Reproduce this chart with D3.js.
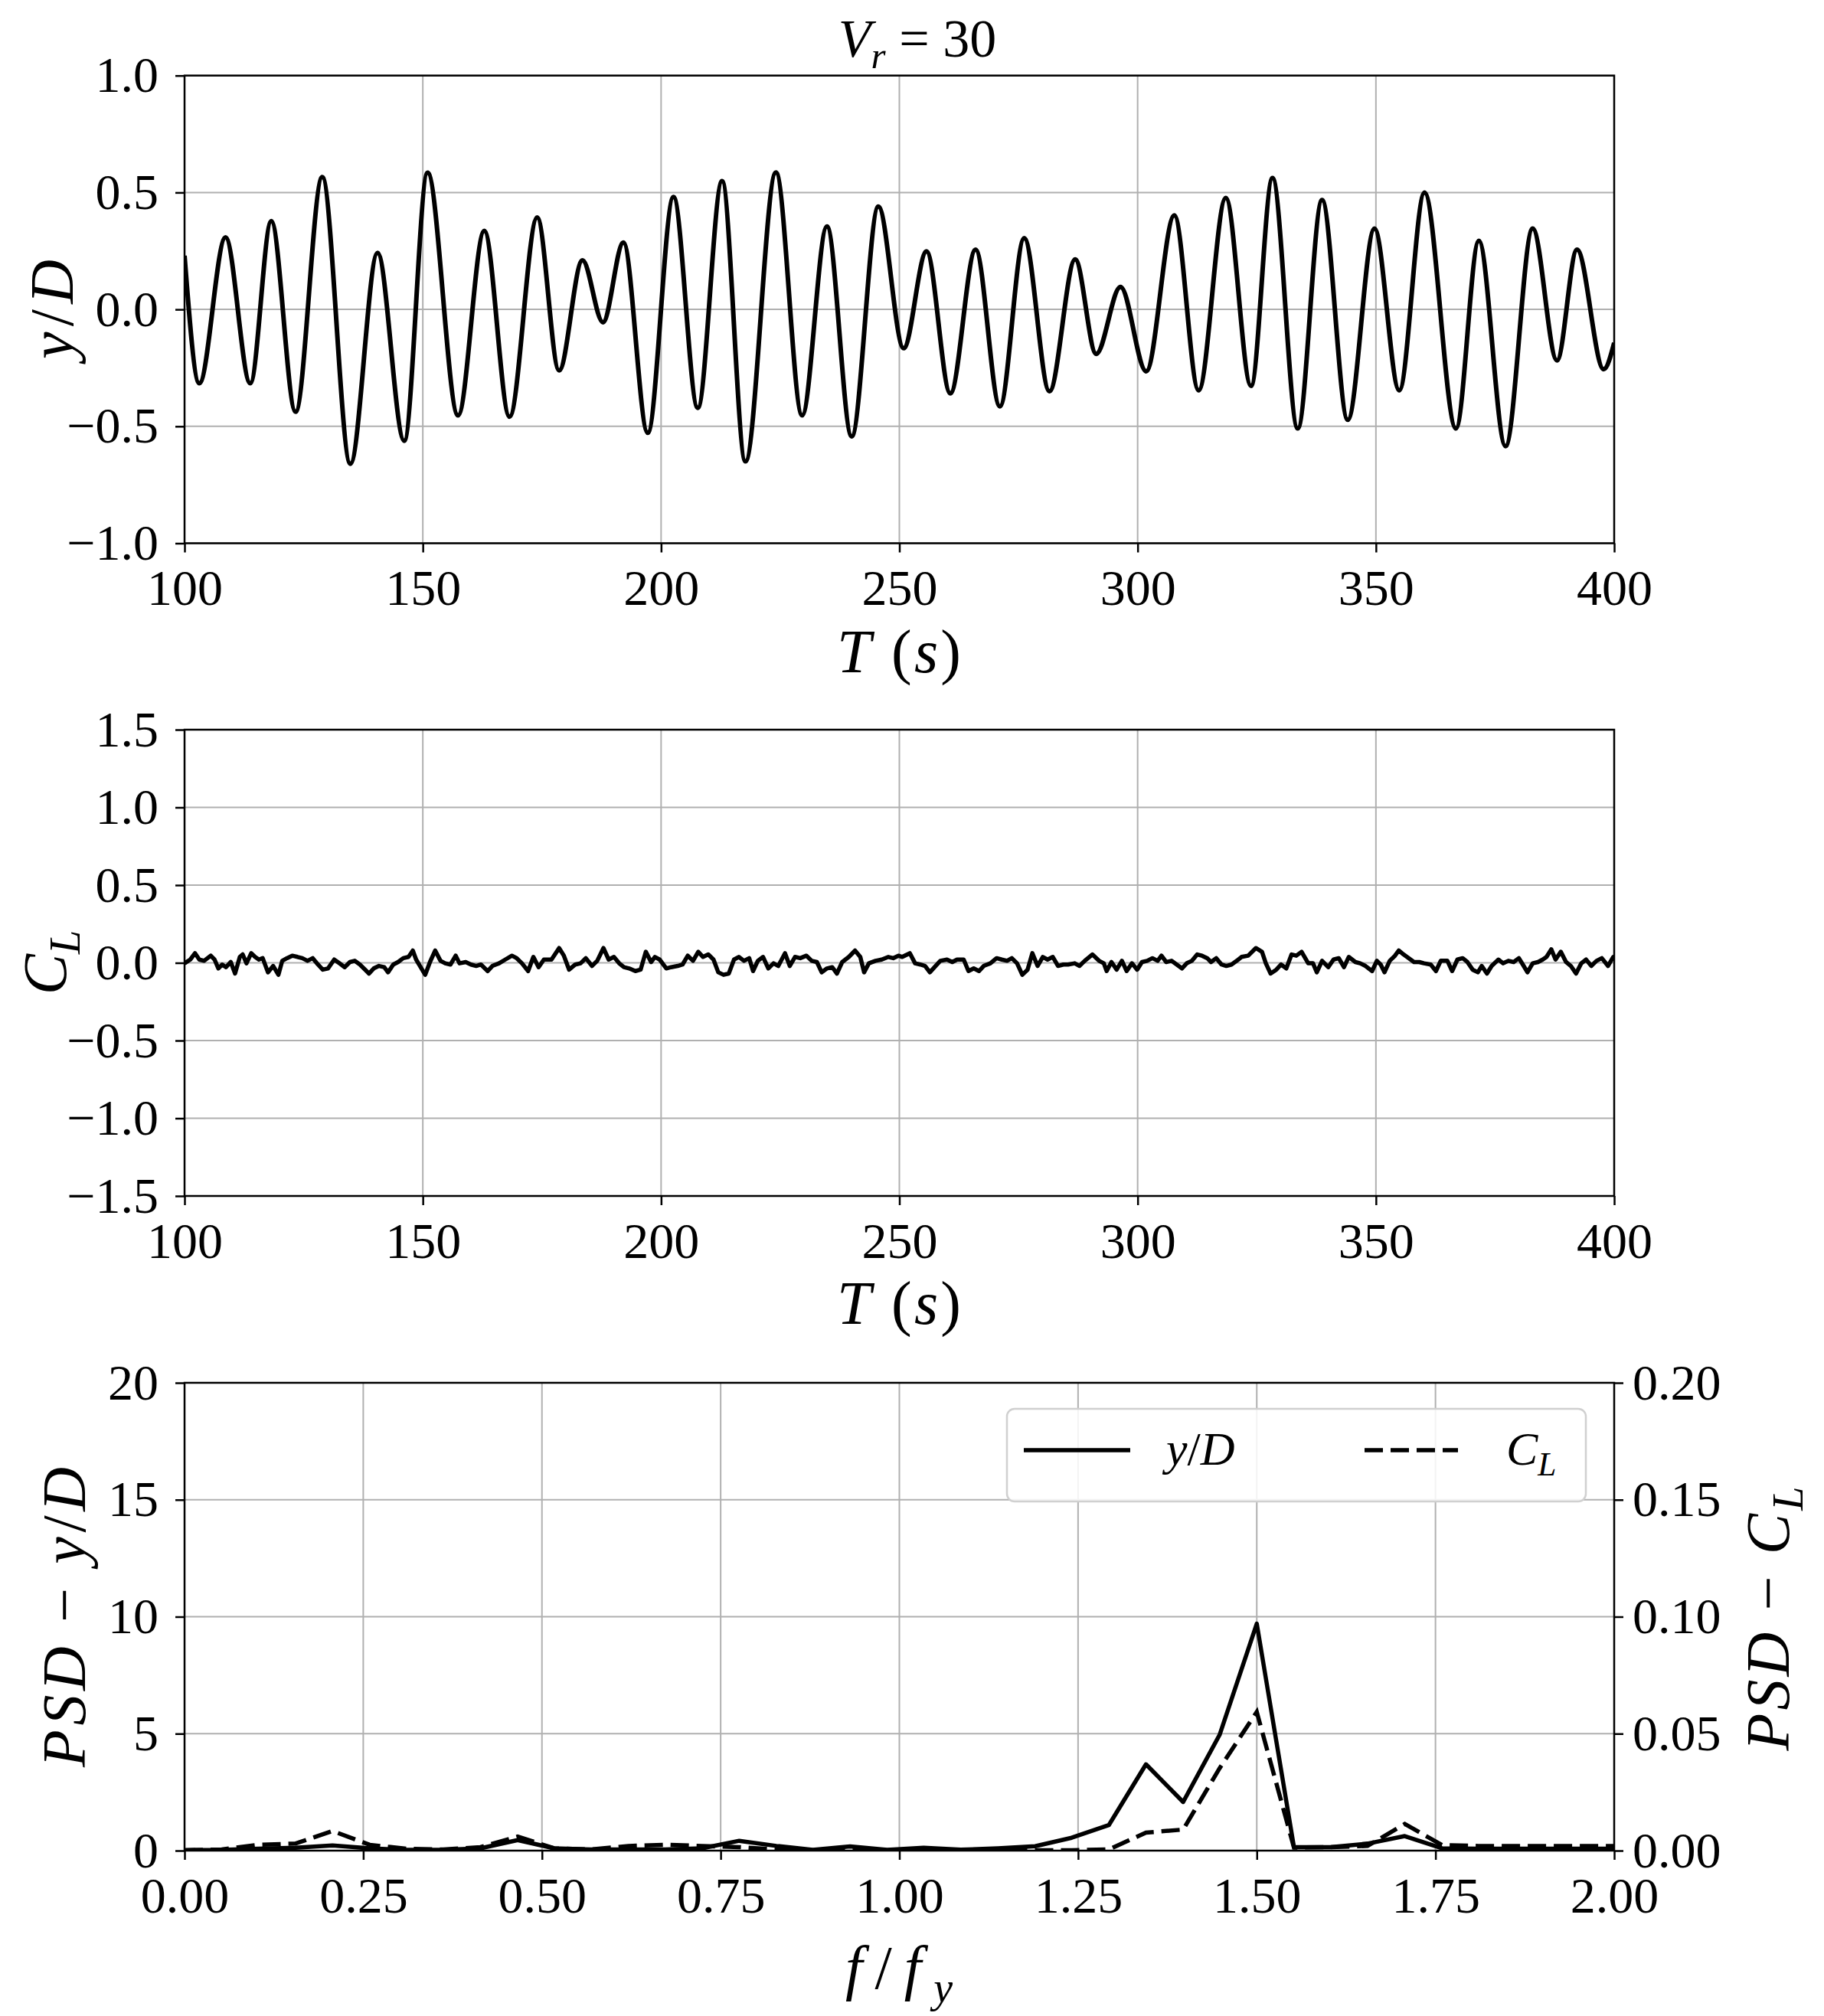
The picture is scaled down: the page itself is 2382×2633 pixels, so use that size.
<!DOCTYPE html>
<html><head><meta charset="utf-8">
<script src="https://cdn.jsdelivr.net/npm/d3@7"></script>
<style>
body{margin:0;background:#fff}
svg{display:block}
text{font-family:"Liberation Serif","DejaVu Serif",serif;fill:#000;white-space:pre}
</style>
</head><body>
<svg id="c" width="2382" height="2633"></svg>
<script>
// ---------- DATA ----------
// y/D displacement: extrema (time s, value)
const dispTime = [100.0,103.1,108.6,113.8,118.2,123.3,128.9,134.8,140.5,146.1,151.0,157.4,162.9,168.2,174.0,178.6,183.5,187.8,192.1,197.2,202.6,207.7,212.8,217.7,224.1,229.6,234.8,240.0,245.6,250.9,255.7,260.7,266.0,271.1,276.2,281.5,286.9,291.3,296.4,301.8,307.7,312.8,318.5,323.8,328.3,333.6,338.7,344.1,349.7,354.9,360.2,366.8,371.6,377.2,382.9,388.0,392.2,397.8,400.0];
const dispValue = [0.23,-0.316,0.308,-0.316,0.378,-0.438,0.566,-0.66,0.242,-0.562,0.585,-0.453,0.336,-0.459,0.393,-0.261,0.21,-0.055,0.286,-0.528,0.481,-0.421,0.549,-0.65,0.586,-0.453,0.355,-0.543,0.44,-0.166,0.248,-0.359,0.256,-0.415,0.305,-0.35,0.214,-0.19,0.096,-0.265,0.402,-0.346,0.477,-0.327,0.562,-0.509,0.468,-0.472,0.346,-0.346,0.5,-0.509,0.293,-0.585,0.346,-0.218,0.256,-0.256,-0.143];

// Lift coefficient C_L time series
const clTime = [100.0,101.2,102.2,103.1,104.1,105.5,106.3,107.1,107.9,108.7,109.7,110.6,111.6,112.2,113.0,114.0,114.8,115.6,116.4,117.5,118.6,119.7,120.5,121.5,122.6,123.7,124.7,125.8,126.9,128.0,129.0,130.1,131.4,132.5,133.6,134.7,135.7,136.8,137.9,138.7,139.7,140.8,141.9,142.7,143.8,144.8,145.9,147.0,147.9,148.6,149.4,150.5,151.5,152.6,153.7,154.7,155.8,156.9,157.7,159.0,160.1,161.2,162.2,163.6,164.6,166.0,167.3,168.7,169.7,170.8,172.1,173.2,174.3,175.4,
177.0,178.6,179.6,180.7,182.0,183.1,184.2,185.5,186.6,187.9,189.0,190.1,191.2,192.2,193.3,194.6,195.7,196.8,197.9,198.7,199.7,201.1,202.1,203.5,204.5,205.6,206.7,207.8,208.8,209.9,211.0,212.0,213.1,214.2,215.3,216.3,217.4,218.5,219.3,220.3,221.4,222.5,223.6,224.6,226.0,227.0,228.1,229.2,230.5,231.6,232.7,233.7,234.8,235.9,236.9,238.0,239.4,240.7,241.8,242.6,243.6,245.0,246.3,247.7,248.7,249.8,
250.6,252.2,253.3,254.4,255.4,256.4,257.6,258.6,260.0,261.1,262.1,263.5,264.5,265.6,266.7,267.7,269.1,270.4,271.5,272.6,273.6,274.7,275.8,276.9,277.9,279.0,280.1,281.1,282.2,283.3,284.4,285.4,286.8,287.8,288.9,290.5,291.9,292.9,293.5,294.5,295.6,296.7,297.7,298.8,299.9,300.9,302.0,303.1,304.2,305.0,306.0,307.1,308.2,309.3,310.3,311.4,312.5,313.5,314.6,315.4,316.5,317.6,318.6,319.7,320.8,321.8,323.2,
324.8,326.1,326.9,327.9,329.1,330.1,331.2,332.3,333.3,334.4,335.8,336.8,337.6,338.7,340.0,341.1,342.2,343.3,344.3,345.7,346.7,347.8,349.2,350.2,351.0,351.8,352.9,354.0,354.8,355.8,356.9,358.0,359.1,360.1,361.5,362.6,363.6,365.0,366.0,367.1,368.2,369.2,370.3,371.4,372.2,373.3,374.3,375.7,376.7,377.8,378.9,380.0,381.0,381.8,382.9,384.0,385.0,385.8,386.8,387.7,388.8,389.9,390.9,392.0,393.1,394.1,395.2,396.3,397.4,398.7,399.8,400.0];
const clValue = [-0.003,0.021,0.062,0.021,0.013,0.046,0.021,-0.036,-0.011,-0.028,0.005,-0.069,0.038,0.054,-0.003,0.062,0.038,0.021,0.030,-0.061,-0.020,-0.077,0.013,0.030,0.046,0.038,0.030,0.013,0.030,-0.011,-0.044,-0.036,0.021,-0.003,-0.028,0.005,0.013,-0.011,-0.044,-0.069,-0.036,-0.020,-0.028,-0.061,-0.011,0.005,0.030,0.038,0.079,0.021,-0.020,-0.077,0.005,0.079,0.013,-0.003,-0.011,0.046,-0.003,0.005,-0.011,-0.020,-0.011,-0.053,-0.020,-0.003,0.021,0.046,0.030,-0.003,-0.053,0.038,-0.028,0.021,
0.021,0.095,0.046,-0.044,-0.011,-0.003,0.030,-0.020,0.013,0.095,0.021,0.038,-0.003,-0.028,-0.036,-0.053,-0.044,0.071,0.005,0.038,0.021,-0.036,-0.028,-0.020,-0.011,0.046,0.013,0.071,0.038,0.054,0.021,-0.061,-0.077,-0.069,0.021,0.038,0.013,0.030,-0.053,0.013,0.038,-0.036,-0.003,-0.020,0.062,-0.020,0.038,0.030,0.046,0.013,0.005,-0.061,-0.036,-0.028,-0.069,0.005,0.038,0.079,0.038,-0.061,-0.003,0.013,0.021,0.038,0.030,0.046,
0.038,0.062,-0.003,-0.011,-0.020,-0.061,-0.020,0.013,0.021,0.005,0.021,0.021,-0.053,-0.036,-0.053,-0.020,-0.003,0.030,0.021,0.013,0.030,-0.003,-0.077,-0.044,0.062,-0.020,0.038,0.021,0.038,-0.020,-0.011,-0.011,-0.003,-0.020,0.013,0.054,0.013,-0.003,-0.053,0.005,-0.044,0.013,-0.053,-0.003,-0.044,0.005,0.013,0.030,0.013,0.046,0.005,0.013,-0.011,-0.036,-0.003,0.013,0.054,0.046,0.030,0.005,0.030,-0.011,-0.020,-0.011,0.013,0.038,0.046,
0.095,0.071,-0.003,-0.069,-0.044,-0.011,-0.036,0.054,0.046,0.071,-0.003,-0.003,-0.061,0.013,-0.028,0.021,0.030,-0.028,0.038,0.005,-0.003,-0.020,-0.053,0.013,-0.011,-0.061,0.013,0.046,0.079,0.054,0.030,0.005,0.005,-0.003,-0.011,-0.053,0.013,0.013,-0.053,0.021,0.030,0.005,-0.044,-0.061,-0.020,-0.069,-0.020,0.021,-0.003,0.013,0.005,0.030,-0.020,-0.061,-0.003,0.005,0.021,0.038,0.087,0.021,0.071,0.005,-0.020,-0.069,-0.003,0.021,-0.020,0.013,0.030,-0.020,0.038,0.030];

// PSD spectra
const psdFreq = [0.000,0.052,0.103,0.155,0.207,0.259,0.310,0.362,0.414,0.466,0.517,0.569,0.621,0.672,0.724,0.776,0.828,0.879,0.931,0.983,1.034,1.086,1.138,1.190,1.241,1.293,1.345,1.397,1.448,1.500,1.552,1.603,1.655,1.707,1.759,1.810,1.862,1.914,1.966,2.017];
const psdDisp = [0.02,0.03,0.08,0.12,0.22,0.10,0.03,0.03,0.10,0.45,0.10,0.05,0.05,0.05,0.10,0.42,0.20,0.03,0.18,0.03,0.12,0.04,0.10,0.19,0.55,1.09,3.69,2.08,4.95,9.70,0.15,0.15,0.30,0.62,0.10,0.08,0.08,0.08,0.08,0.08];
const psdCL = [0.0002,0.0005,0.0025,0.0030,0.0084,0.0025,0.0008,0.0005,0.0015,0.0060,0.0010,0.0005,0.0020,0.0025,0.0020,0.0015,0.0005,0.0002,0.0002,0.0002,0.0002,0.0002,0.0002,0.0002,0.0002,0.0005,0.0077,0.0090,0.0352,0.0593,0.0013,0.0015,0.0020,0.0114,0.0024,0.0020,0.0020,0.0020,0.0020,0.0020];

// Ticks
const timeTicks = [100,150,200,250,300,350,400];
const dispTicks = [-1.0,-0.5,0.0,0.5,1.0];
const clTicks = [-1.5,-1.0,-0.5,0.0,0.5,1.0,1.5];
const freqTicks = [0.00,0.25,0.50,0.75,1.00,1.25,1.50,1.75,2.00];
const psdDispTicks = [0,5,10,15,20];
const psdCLTicks = [0.00,0.05,0.10,0.15,0.20];

// ---------- DRAW ----------
const svg = d3.select("#c");
svg.append("rect").attr("width",2382).attr("height",2633).attr("fill","#fff");
const L = 241, R = 2108;
const TICK = 66, LAB = 80;

function mtext(parent, x, y, parts, size, opts = {}) {
  const t = parent.append("text").attr("x", x).attr("y", y)
    .attr("font-size", size).attr("text-anchor", opts.anchor || "middle");
  if (opts.rotate) t.attr("transform", `rotate(${opts.rotate},${x},${y})`);
  let shift = 0;
  parts.forEach(p => {
    const s = t.append("tspan").text(p.t);
    if (p.i) s.attr("font-style", "italic");
    const want = p.sub ? size * 0.22 : 0;
    if (want !== shift) { s.attr("dy", want - shift); shift = want; }
    if (p.sub) s.attr("font-size", size * 0.7);
  });
  if (opts.len) t.attr("textLength", opts.len).attr("lengthAdjust", "spacing");
  return t;
}

function panel(id, x, y, xTicks, yTicks, xFmt, yFmt) {
  const g = svg.append("g");
  const [y0, y1] = y.range();
  g.append("defs").append("clipPath").attr("id", id)
    .append("rect").attr("x", L).attr("y", y1).attr("width", R - L).attr("height", y0 - y1);
  const grid = g.append("g").attr("stroke", "#b0b0b0").attr("stroke-width", 2);
  xTicks.forEach(v => grid.append("line").attr("x1", x(v)).attr("x2", x(v)).attr("y1", y1).attr("y2", y0));
  yTicks.forEach(v => grid.append("line").attr("x1", L).attr("x2", R).attr("y1", y(v)).attr("y2", y(v)));
  const plot = g.append("g").attr("clip-path", `url(#${id})`);
  const ax = g.append("g");
  const xa = ax.append("g").attr("transform", `translate(0,${y0})`)
    .call(d3.axisBottom(x).tickValues(xTicks).tickFormat(xFmt).tickSize(12).tickPadding(22));
  const ya = ax.append("g").attr("transform", `translate(${L},0)`)
    .call(d3.axisLeft(y).tickValues(yTicks).tickFormat(yFmt).tickSize(12).tickPadding(22));
  [xa, ya].forEach(a => {
    a.select(".domain").remove();
    a.selectAll(".tick line").attr("stroke", "#000").attr("stroke-width", 2.5);
    a.selectAll(".tick text").attr("font-size", TICK).attr("font-family", null).attr("fill", "#000");
  });
  g.append("rect").attr("x", L).attr("y", y1).attr("width", R - L).attr("height", y0 - y1)
    .attr("fill", "none").attr("stroke", "#000").attr("stroke-width", 2.5);
  return { g, plot };
}

const f1 = d3.format(".1f");
const f2 = d3.format(".2f");

// Panel 1: y/D
const xT1 = d3.scaleLinear([100, 400], [L, R]);
const yD = d3.scaleLinear([-1, 1], [709.5, 98.7]);
const p1 = panel("c1", xT1, yD, timeTicks, dispTicks, d3.format("d"), f1);
p1.plot.append("path")
  .datum(dispTime.map((t, i) => [t, dispValue[i]]))
  .attr("fill", "none").attr("stroke", "#000").attr("stroke-width", 6)
  .attr("d", d3.line().x(d => xT1(d[0])).y(d => yD(d[1])).curve(d3.curveMonotoneX));
mtext(svg, 1198, 74, [{t:"V",i:1},{t:"r",i:1,sub:1},{t:" = 30"}], 70);
mtext(svg, 1174, 878, [{t:"T",i:1},{t:" ("},{t:"s",i:1},{t:")"}], LAB, {len:162});
mtext(svg, 95, 404, [{t:"y",i:1},{t:"/"},{t:"D",i:1}], LAB, {rotate:-90, len:130});

// Panel 2: C_L
const xT2 = d3.scaleLinear([100, 400], [L, R]);
const yC = d3.scaleLinear([-1.5, 1.5], [1562, 953]);
const p2 = panel("c2", xT2, yC, timeTicks, clTicks, d3.format("d"), f1);
p2.plot.append("path")
  .datum(clTime.map((t, i) => [t, clValue[i]]))
  .attr("fill", "none").attr("stroke", "#000").attr("stroke-width", 5.5).attr("stroke-linejoin", "round")
  .attr("d", d3.line().x(d => xT2(d[0])).y(d => yC(d[1])));
mtext(svg, 1174, 1729, [{t:"T",i:1},{t:" ("},{t:"s",i:1},{t:")"}], LAB, {len:162});
mtext(svg, 86, 1257, [{t:"C",i:1},{t:"L",i:1,sub:1}], LAB, {rotate:-90});

// Panel 3: PSD
const xF = d3.scaleLinear([0, 2], [L, R]);
const yP = d3.scaleLinear([0, 20], [2417, 1806]);
const yPR = d3.scaleLinear([0, 0.2], [2417, 1806]);
const p3 = panel("c3", xF, yP, freqTicks, psdDispTicks, f2, d3.format("d"));
const ra = p3.g.append("g").attr("transform", `translate(${R},0)`)
  .call(d3.axisRight(yPR).tickValues(psdCLTicks).tickFormat(f2).tickSize(12).tickPadding(12));
ra.select(".domain").remove();
ra.selectAll(".tick line").attr("stroke", "#000").attr("stroke-width", 2.5);
ra.selectAll(".tick text").attr("font-size", TICK).attr("font-family", null).attr("fill", "#000");

p3.plot.append("path")
  .datum(psdFreq.map((f, i) => [f, psdDisp[i]]))
  .attr("fill", "none").attr("stroke", "#000").attr("stroke-width", 5.5).attr("stroke-linejoin", "round")
  .attr("d", d3.line().x(d => xF(d[0])).y(d => yP(d[1])));
p3.plot.append("path")
  .datum(psdFreq.map((f, i) => [f, psdCL[i]]))
  .attr("fill", "none").attr("stroke", "#000").attr("stroke-width", 5.5).attr("stroke-dasharray", "24,10")
  .attr("d", d3.line().x(d => xF(d[0])).y(d => yPR(d[1])));

mtext(svg, 1174, 2597, [{t:"f",i:1},{t:"/"},{t:"f",i:1},{t:"y",i:1,sub:1}], LAB, {len:140});
mtext(svg, 111, 2112, [{t:"PSD",i:1},{t:" − "},{t:"y",i:1},{t:"/"},{t:"D",i:1}], LAB, {rotate:-90, len:392});
mtext(svg, 2336, 2114, [{t:"PSD",i:1},{t:" − "},{t:"C",i:1},{t:"L",i:1,sub:1}], LAB, {rotate:-90, len:345});

// Legend
const lg = svg.append("g");
lg.append("rect").attr("x", 1315).attr("y", 1840).attr("width", 756).attr("height", 121).attr("rx", 10)
  .attr("fill", "#fff").attr("fill-opacity", 0.85).attr("stroke", "#d0d0d0").attr("stroke-width", 2.5);
lg.append("line").attr("x1", 1337).attr("x2", 1476).attr("y1", 1894).attr("y2", 1894)
  .attr("stroke", "#000").attr("stroke-width", 5.5);
lg.append("line").attr("x1", 1782).attr("x2", 1904).attr("y1", 1894).attr("y2", 1894)
  .attr("stroke", "#000").attr("stroke-width", 5.5).attr("stroke-dasharray", "24,10");
mtext(lg, 1523, 1913, [{t:"y",i:1},{t:"/"},{t:"D",i:1}], 62, {anchor:"start"});
mtext(lg, 1967, 1913, [{t:"C",i:1},{t:"L",i:1,sub:1}], 62, {anchor:"start"});
</script>
</body></html>
